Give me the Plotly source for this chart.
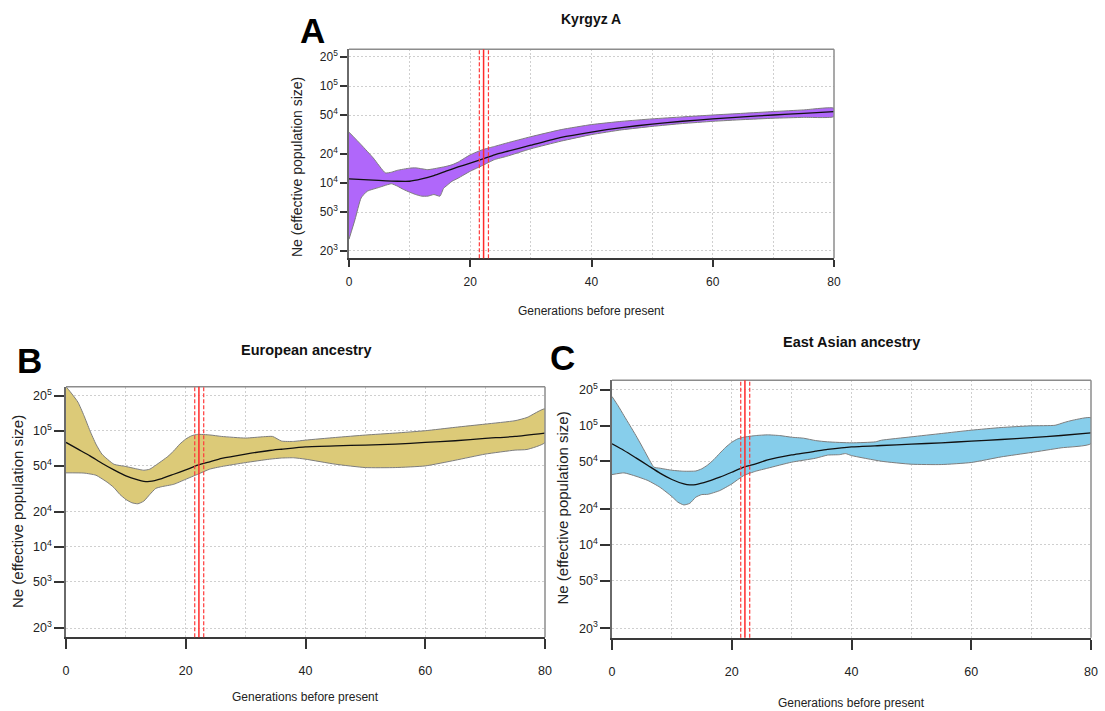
import plotly.graph_objects as go

# ---------------- data ----------------
# Panel A: Kyrgyz A
A_MED_X = [0, 4, 8, 10, 12, 14, 16, 18, 20, 22, 24, 26, 30, 35, 40, 45, 50, 55, 60, 65, 70, 75, 80]
A_MED = [11000, 10700, 10400, 10400, 11000, 11900, 13200, 14600, 16000, 17600, 19500, 21100,
         24500, 29500, 33500, 37300, 40500, 43300, 45800, 48000, 50200, 52300, 54300]
A_UP_X = [0, 2, 4, 6, 7, 8, 10, 11, 12, 13, 14, 16, 17, 18, 19, 20, 22, 24, 26, 30, 35, 40,
          45, 50, 55, 60, 65, 70, 75, 80]
A_UP = [33400, 24800, 18100, 12700, 12900, 13500, 14200, 14300, 14000, 13700, 14000, 14800,
        15400, 16400, 17900, 19500, 22000, 23800, 25800, 30000, 35500, 40000, 43200, 45800,
        48000, 50200, 52300, 54500, 56700, 59000]
A_LO_X = [0, 1, 2, 3, 5, 7, 8, 9, 10, 11, 12, 13, 14, 15, 15.6, 16, 17, 18, 20, 22, 24, 26,
          30, 35, 40, 45, 50, 55, 60, 65, 70, 75, 80]
A_LO = [2620, 4200, 7000, 8200, 9000, 9800, 9250, 8550, 8020, 7590, 7300, 7300, 7590, 7300,
        8800, 9250, 10400, 11200, 13200, 15100, 17400, 18800, 22500, 27000, 31500, 35300,
        38300, 41000, 43200, 45000, 46500, 47500, 48400]

# Panel B: European ancestry
B_MED_X = [0, 2, 4, 6, 8, 10, 12, 13, 14, 16, 18, 20, 22, 24, 26, 30, 34, 36, 40, 45, 50, 55,
           60, 65, 70, 75, 80]
B_MED = [79300, 69400, 60800, 52500, 46000, 40800, 37700, 36700, 36600, 38700, 42200, 46000,
         50500, 54000, 57700, 62900, 67600, 69300, 72700, 74200, 75200, 76700, 79300, 82000,
         85900, 89300, 95500]
B_UP_X = [0, 1, 2, 3, 4, 5, 6, 8, 10, 12, 13, 14, 15, 17, 18, 19, 20, 21, 22, 24, 26, 30, 33,
          34.5, 36, 38, 40, 45, 50, 55, 60, 65, 70, 75, 77, 80]
B_UP = [240000, 207000, 176000, 135000, 100000, 76700, 62900, 51500, 49200, 46700, 45700,
        46700, 50500, 60000, 67100, 76700, 84800, 90600, 93000, 92000, 89300, 86500, 88800,
        89300, 81500, 80900, 83000, 87500, 91800, 95500, 100000, 107000, 114000, 122000,
        130000, 154000]
B_LO_X = [0, 3, 5, 7, 8, 9, 10, 11, 12, 13, 14, 15, 16, 18, 20, 22, 24, 26, 30, 34, 36, 38,
          40, 45, 50, 55, 60, 65, 70, 75, 77, 80]
B_LO = [43400, 43200, 41400, 35700, 32400, 28300, 25600, 24000, 23500, 24800, 28300, 31900,
        33000, 34600, 38200, 42200, 46700, 49200, 53200, 56900, 58200, 58500, 56900, 51500,
        48200, 48200, 49800, 55700, 62900, 68100, 69000, 79300]

# Panel C: East Asian ancestry
C_MED_X = [0, 2, 4, 6, 8, 10, 12, 13, 14, 16, 18, 20, 22, 24, 26, 30, 34, 36, 40, 45, 50, 55,
           60, 65, 70, 75, 80]
C_MED = [70200, 61800, 53600, 46300, 39900, 35300, 32400, 31800, 32000, 34000, 36900, 40600,
         44800, 47700, 51500, 56700, 60900, 63000, 66300, 68000, 69800, 71600, 74000, 76400,
         79300, 82500, 86900]
C_UP_X = [0, 1, 2, 3, 4, 5, 6, 7, 8, 10, 12, 14, 15, 16, 17, 18, 19, 20, 21, 22, 24, 26, 28,
          30, 32, 34, 36, 40, 44, 45, 50, 55, 60, 65, 70, 74, 75.5, 77, 80]
C_UP = [175000, 147000, 121000, 100000, 82400, 67100, 54300, 44800, 43900, 42200, 41400,
        41600, 43400, 46800, 51800, 58600, 65800, 72400, 77300, 79800, 82400, 83500, 82400,
        79800, 78300, 74800, 73000, 71600, 73000, 75300, 80400, 85700, 91400, 96200, 99400,
        100500, 106000, 110900, 116000]
C_LO_X = [0, 2, 4, 6, 8, 10, 11, 12, 13, 14, 15, 16, 18, 20, 22, 24, 26, 30, 34, 36, 38, 39,
          40, 45, 50, 55, 60, 65, 70, 75, 80]
C_LO = [38800, 40100, 37600, 34600, 30400, 25400, 22800, 21600, 22300, 25100, 26400, 26500,
        28500, 32400, 38100, 41400, 43900, 49300, 53200, 56500, 57000, 58200, 56000, 50200,
        47400, 47100, 49000, 54600, 59400, 65000, 70600]

TITLES = ["Kyrgyz A", "European ancestry", "East Asian ancestry"]
LETTERS = ["A", "B", "C"]
RED_SOLID = 22.2
RED_DASHED = [21.5, 23.0]
X_TICKS = [0, 20, 40, 60, 80]
Y_TICKS = [2000, 5000, 10000, 20000, 50000, 100000, 200000]
Y_TICKTEXT = ["20<sup>3</sup>", "50<sup>3</sup>", "10<sup>4</sup>", "20<sup>4</sup>",
              "50<sup>4</sup>", "10<sup>5</sup>", "20<sup>5</sup>"]
X_LABEL = "Generations before present"
Y_LABEL = "Ne (effective population size)"

# ---------------- layout / style ----------------
W, H = 1105, 711
FONT = "Liberation Sans, Arial, sans-serif"
GRID_COLOR = "#cfcfcf"
GRID_DASH = "2px,2px"

panels = [
    dict(mx=A_MED_X, m=A_MED, ux=A_UP_X, u=A_UP, lx=A_LO_X, l=A_LO, color="#B067FA",
         box=(349, 834, 49.3, 258.3), title_xy=(591, 19), title_size=14,
         letter_xy=(312.5, 30.5), xlab_xy=(591, 311), ylab_xy=(297, 167), lab_size=12,
         ylab_size=14, ticklen=7, xstand=4),
    dict(mx=B_MED_X, m=B_MED, ux=B_UP_X, u=B_UP, lx=B_LO_X, l=B_LO, color="#DCCA78",
         box=(66, 545, 386.7, 637.3), title_xy=(306, 350), title_size=14.5,
         letter_xy=(29, 360), xlab_xy=(305, 697), ylab_xy=(17.5, 511.5), lab_size=12.5,
         ylab_size=15, ticklen=10, xstand=11),
    dict(mx=C_MED_X, m=C_MED, ux=C_UP_X, u=C_UP, lx=C_LO_X, l=C_LO, color="#87CEEB",
         box=(612, 1091, 380.3, 637.7), title_xy=(851, 342), title_size=14.5,
         letter_xy=(562, 357.5), xlab_xy=(851, 703), ylab_xy=(562, 508.5), lab_size=12.5,
         ylab_size=15, ticklen=10, xstand=11),
]

fig = go.Figure()
shapes = []
annotations = []
layout_axes = {}


def px(x):
    return x / W


def py(y):
    return 1 - y / H


for i, p in enumerate(panels):
    sfx = "" if i == 0 else str(i + 1)
    xa, ya = "x" + sfx, "y" + sfx
    poly_x = list(p["ux"]) + list(reversed(p["lx"]))
    poly_y = list(p["u"]) + list(reversed(p["l"]))
    fig.add_trace(go.Scatter(
        x=poly_x, y=poly_y, mode="lines", fill="toself", fillcolor=p["color"],
        line=dict(color="#7d7d7d", width=1, shape="spline", smoothing=0.5),
        xaxis=xa, yaxis=ya, hoverinfo="skip", showlegend=False))
    fig.add_trace(go.Scatter(
        x=p["mx"], y=p["m"], mode="lines",
        line=dict(color="#111111", width=1.3, shape="spline", smoothing=0.5),
        xaxis=xa, yaxis=ya, hoverinfo="skip", showlegend=False))

    x0, x1, y0, y1 = p["box"]
    grid = dict(showgrid=True, gridcolor=GRID_COLOR, griddash=GRID_DASH, gridwidth=1)
    layout_axes["xaxis" + sfx] = dict(
        domain=[px(x0), px(x1)], anchor=ya, range=[0, 80], tickmode="array",
        tickvals=X_TICKS, ticks="outside", ticklen=p["ticklen"], tickwidth=1.5,
        tickcolor="#333333", showline=True, linecolor="#3a3a3a", linewidth=2,
        zeroline=False, tickfont=dict(family=FONT, size=p["lab_size"], color="#222"),
        ticklabelstandoff=p["xstand"],
        minor=dict(dtick=10, tick0=0, ticks="", showgrid=True, gridcolor=GRID_COLOR,
                   griddash=GRID_DASH, gridwidth=1),
        **grid)
    layout_axes["yaxis" + sfx] = dict(
        domain=[py(y1), py(y0)], anchor=xa, type="log", range=[3.222, 5.379],
        tickmode="array", tickvals=Y_TICKS, ticktext=Y_TICKTEXT, ticks="outside",
        ticklen=p["ticklen"], tickwidth=1.5, tickcolor="#333333", showline=True,
        linecolor="#6a6a6a", linewidth=1.5, zeroline=False,
        tickfont=dict(family=FONT, size=p["lab_size"], color="#222"), **grid)

    # top and right border of the box
    shapes.append(dict(type="line", xref=xa + " domain", yref=ya + " domain",
                       x0=0, x1=1, y0=1, y1=1, line=dict(color="#8c8c8c", width=1.5)))
    shapes.append(dict(type="line", xref=xa + " domain", yref=ya + " domain",
                       x0=1, x1=1, y0=0, y1=1, line=dict(color="#8c8c8c", width=1.5)))
    # red reference lines
    shapes.append(dict(type="line", xref=xa, yref=ya + " domain", x0=RED_SOLID,
                       x1=RED_SOLID, y0=0, y1=1, line=dict(color="#ff2a2a", width=1.5)))
    for v in RED_DASHED:
        shapes.append(dict(type="line", xref=xa, yref=ya + " domain", x0=v, x1=v,
                           y0=0, y1=1, line=dict(color="#ff3b3b", width=1.2,
                                                 dash="4px,2px")))

    tx, ty = p["title_xy"]
    annotations.append(dict(text="<b>" + TITLES[i] + "</b>", x=px(tx), y=py(ty),
                            xref="paper", yref="paper", showarrow=False,
                            xanchor="center", yanchor="middle",
                            font=dict(family=FONT, size=p["title_size"], color="#111")))
    lx_, ly_ = p["letter_xy"]
    annotations.append(dict(text="<b>" + LETTERS[i] + "</b>", x=px(lx_), y=py(ly_),
                            xref="paper", yref="paper", showarrow=False,
                            xanchor="center", yanchor="middle",
                            font=dict(family=FONT, size=35, color="#000")))
    xx, xy = p["xlab_xy"]
    annotations.append(dict(text=X_LABEL, x=px(xx), y=py(xy), xref="paper", yref="paper",
                            showarrow=False, xanchor="center", yanchor="middle",
                            font=dict(family=FONT, size=12, color="#222")))
    yx, yy = p["ylab_xy"]
    annotations.append(dict(text=Y_LABEL, x=px(yx), y=py(yy), xref="paper", yref="paper",
                            showarrow=False, xanchor="center", yanchor="middle",
                            textangle=-90,
                            font=dict(family=FONT, size=p["ylab_size"], color="#222")))

fig.update_layout(
    width=W, height=H, margin=dict(l=0, r=0, t=0, b=0, autoexpand=False),
    paper_bgcolor="white", plot_bgcolor="white", showlegend=False,
    shapes=shapes, annotations=annotations, **layout_axes)

fig.write_html("out.html", config={"displayModeBar": False},
               post_script="document.body.style.margin='0';")
